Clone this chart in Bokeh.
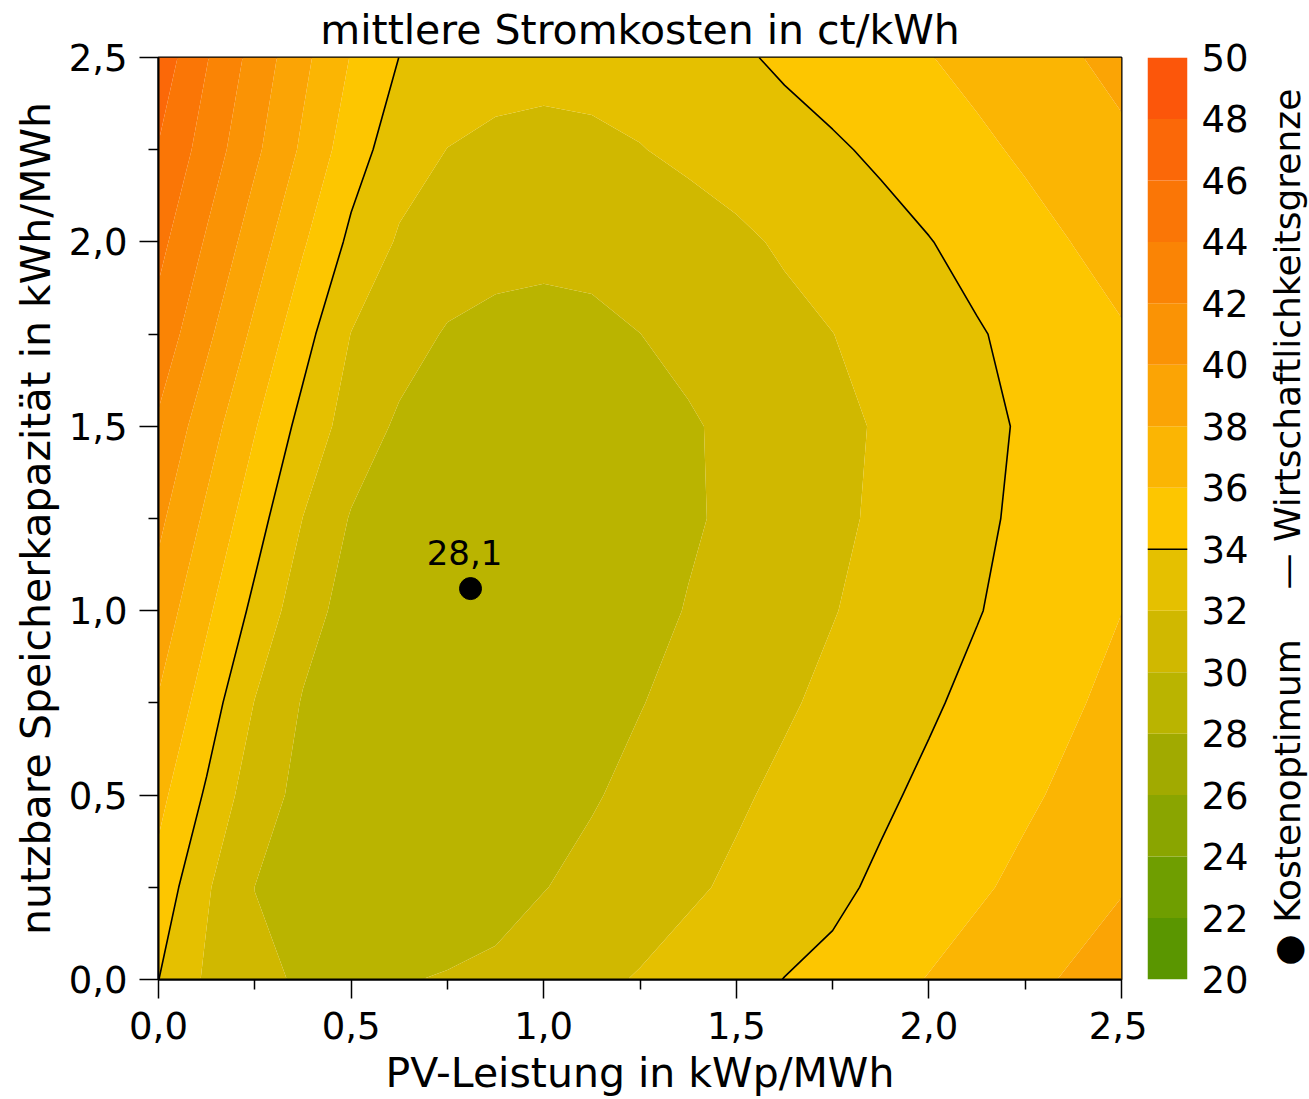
import math
import numpy as np
from bokeh.plotting import figure
from bokeh.models import Range1d, FixedTicker
from bokeh.layouts import row
from bokeh.core.properties import value
from bokeh.embed import file_html
from bokeh.resources import INLINE

FONT = "DejaVu Sans"

title_text = "mittlere Stromkosten in ct/kWh"
x_label = "PV-Leistung in kWp/MWh"
y_label = "nutzbare Speicherkapazität in kWh/MWh"

# grid of the cost field (PV power in kWp/MWh, storage in kWh/MWh)
pv_grid = [0.0, 0.125, 0.25, 0.375, 0.5, 0.625, 0.75, 0.875, 1.0, 1.125, 1.25,
           1.375, 1.5, 1.625, 1.75, 1.875, 2.0, 2.125, 2.25, 2.375, 2.5]
storage_grid = [0.0, 0.25, 0.5, 0.75, 1.0, 1.25, 1.5, 1.75, 2.0, 2.25, 2.5]

# mean electricity cost in ct/kWh, one row per storage value
cost_s000 = [34.02, 31.71, 30.20, 29.90, 29.96, 29.93, 30.08, 30.26, 31.00, 31.62, 32.13, 32.76, 33.39, 34.03, 34.43, 35.39, 36.08, 36.80, 37.52, 38.24, 38.96]
cost_s025 = [35.29, 32.22, 29.99, 29.54, 29.28, 29.21, 29.31, 29.55, 29.94, 30.52, 31.11, 31.70, 32.32, 32.97, 33.62, 34.30, 35.01, 35.73, 36.45, 37.16, 37.88]
cost_s050 = [36.57, 33.73, 30.80, 29.52, 28.94, 28.66, 28.66, 28.86, 29.26, 29.84, 30.49, 31.11, 31.74, 32.38, 33.04, 33.70, 34.36, 35.04, 35.71, 36.41, 37.15]
cost_s075 = [37.86, 35.06, 31.93, 29.86, 28.96, 28.43, 28.26, 28.37, 28.69, 29.21, 29.93, 30.56, 31.17, 31.77, 32.42, 33.10, 33.77, 34.45, 35.13, 35.81, 36.52]
cost_s100 = [39.14, 36.35, 33.51, 30.77, 29.28, 28.53, 28.15, 28.14, 28.34, 28.74, 29.34, 30.10, 30.70, 31.31, 31.92, 32.58, 33.24, 33.91, 34.61, 35.30, 35.98]
cost_s125 = [40.43, 37.63, 34.84, 31.97, 29.86, 28.92, 28.37, 28.21, 28.32, 28.61, 29.09, 29.74, 30.41, 31.02, 31.63, 32.28, 32.97, 33.66, 34.35, 35.05, 35.75]
cost_s150 = [41.71, 38.92, 36.13, 33.35, 31.12, 29.70, 29.04, 28.71, 28.69, 28.87, 29.24, 29.80, 30.41, 30.99, 31.57, 32.17, 32.85, 33.53, 34.21, 34.91, 35.60]
cost_s175 = [43.26, 40.42, 37.58, 34.74, 31.96, 30.80, 29.84, 29.49, 29.40, 29.57, 29.99, 30.49, 30.98, 31.48, 31.98, 32.60, 33.23, 33.85, 34.51, 35.18, 35.85]
cost_s200 = [44.57, 41.79, 39.01, 36.22, 33.57, 31.77, 31.09, 30.67, 30.50, 30.56, 30.76, 31.13, 31.64, 32.24, 32.80, 33.36, 33.93, 34.62, 35.33, 36.04, 36.70]
cost_s225 = [45.89, 43.14, 40.40, 37.66, 34.92, 32.90, 31.97, 31.61, 31.50, 31.62, 31.93, 32.39, 32.84, 33.30, 33.76, 34.31, 34.96, 35.62, 36.29, 36.97, 37.65]
cost_s250 = [47.23, 44.12, 41.28, 38.49, 35.90, 33.98, 33.17, 32.70, 32.55, 32.63, 32.86, 33.22, 33.73, 34.30, 34.84, 35.38, 35.93, 36.56, 37.21, 37.86, 38.51]

levels = [20, 22, 24, 26, 28, 30, 32, 34, 36, 38, 40, 42, 44, 46, 48, 50]
level_labels = ["20", "22", "24", "26", "28", "30", "32", "34", "36", "38", "40", "42", "44", "46", "48", "50"]
band_colors = ["#5a9600", "#6f9e00", "#8aa500", "#a1aa00", "#bab400", "#d0b800", "#e5c000",
               "#fdc600", "#fbb503", "#fba405", "#fa9305", "#fa8405", "#fa7606", "#fb6808", "#fc560a"]
econ_limit = 34  # Wirtschaftlichkeitsgrenze

opt_pv = [0.81]
opt_storage = [1.06]
opt_label = ["28,1"]

x_ticks = [0.0, 0.5, 1.0, 1.5, 2.0, 2.5]
x_tick_labels = ["0,0", "0,5", "1,0", "1,5", "2,0", "2,5"]
y_ticks = [0.0, 0.5, 1.0, 1.5, 2.0, 2.5]
y_tick_labels = ["0,0", "0,5", "1,0", "1,5", "2,0", "2,5"]
minor_ticks = [0.25, 0.75, 1.25, 1.75, 2.25]

legend_labels = ["\u25cf Kostenoptimum", "\u2014 Wirtschaftlichkeitsgrenze"]
legend_start = [20.45, 32.69]  # where each legend entry starts along the colour scale

Z = np.array([cost_s000, cost_s025, cost_s050, cost_s075, cost_s100, cost_s125,
              cost_s150, cost_s175, cost_s200, cost_s225, cost_s250])
X = np.array(pv_grid)
Y = np.array(storage_grid)

TOP, BOTTOM, H = 57, 120, 1099

# ---------------- main figure ----------------
p = figure(width=1147, height=H, x_range=Range1d(0, 2.5), y_range=Range1d(0, 2.5),
           output_backend="svg", toolbar_location=None,
           min_border_left=158, min_border_right=26, min_border_top=TOP, min_border_bottom=BOTTOM,
           title=title_text)
p.title.text_font = FONT
p.title.text_font_size = "41px"
p.title.text_font_style = "normal"
p.title.align = "center"
p.title.standoff = 7
p.title.text_color = "black"

p.contour(x=X, y=Y, z=Z, levels=levels, fill_color=band_colors, line_color=None)
p.contour(x=X, y=Y, z=Z, levels=[econ_limit], line_color="black", line_width=1.6)

p.scatter(x=opt_pv, y=opt_storage, size=22, fill_color="black", line_color="black")
p.text(x=opt_pv, y=opt_storage, text=opt_label, text_font=value(FONT), text_font_size="34px",
       text_align="center", text_baseline="alphabetic", x_offset=-6, y_offset=-36, text_color="black")

p.xaxis.ticker = FixedTicker(ticks=x_ticks, minor_ticks=minor_ticks)
p.yaxis.ticker = FixedTicker(ticks=y_ticks, minor_ticks=minor_ticks)
p.xaxis.major_label_overrides = dict(zip(x_ticks, x_tick_labels))
p.yaxis.major_label_overrides = dict(zip(y_ticks, y_tick_labels))
p.xaxis.axis_label = x_label
p.yaxis.axis_label = y_label

for ax in (p.xaxis[0], p.yaxis[0]):
    ax.major_tick_out = 19
    ax.major_tick_in = 0
    ax.minor_tick_out = 10
    ax.minor_tick_in = 0
    ax.major_tick_line_color = "black"
    ax.minor_tick_line_color = "black"
    ax.major_tick_line_width = 1.5
    ax.minor_tick_line_width = 1.5
    ax.axis_line_color = "black"
    ax.axis_line_width = 2
    ax.major_label_text_font = FONT
    ax.major_label_text_font_size = "37px"
    ax.major_label_text_color = "black"
    ax.axis_label_text_font = FONT
    ax.axis_label_text_font_size = "41px"
    ax.axis_label_text_font_style = "normal"
    ax.axis_label_text_color = "black"
p.xaxis.major_label_standoff = 13
p.yaxis.major_label_standoff = 12
p.xaxis.axis_label_standoff = 7
p.yaxis.axis_label_standoff = 6
p.grid.visible = False
p.outline_line_color = "black"
p.outline_line_width = 2

# ---------------- colour bar ----------------
cb = figure(width=113, height=H, x_range=Range1d(0, 1), y_range=Range1d(20, 50),
            output_backend="svg", toolbar_location=None,
            min_border_left=0, min_border_right=73, min_border_top=TOP, min_border_bottom=BOTTOM,
            x_axis_type=None, y_axis_location="right")
cb.grid.visible = False
cb.outline_line_color = None
cb.quad(left=0, right=1, bottom=levels[:-1], top=levels[1:], fill_color=band_colors, line_color=None)
cb.segment(x0=[0], y0=[econ_limit], x1=[1], y1=[econ_limit], line_color="black", line_width=1.6)
ya = cb.yaxis[0]
ya.ticker = FixedTicker(ticks=levels)
ya.major_label_overrides = dict(zip(levels, level_labels))
ya.major_tick_line_color = None
ya.minor_tick_line_color = None
ya.axis_line_color = None
ya.major_label_standoff = 8
ya.major_label_text_font = FONT
ya.major_label_text_font_size = "37px"
ya.major_label_text_color = "black"

# ---------------- legend (rotated) ----------------
lg = figure(width=49, height=H, x_range=Range1d(0, 49), y_range=Range1d(20, 50),
            output_backend="svg", toolbar_location=None,
            min_border_left=0, min_border_right=0, min_border_top=TOP, min_border_bottom=BOTTOM,
            x_axis_type=None, y_axis_type=None)
lg.grid.visible = False
lg.outline_line_color = None
lg.text(x=[27, 27], y=legend_start, text=legend_labels, angle=math.pi / 2,
        text_font=value(FONT), text_font_size="36px",
        text_align="left", text_baseline="alphabetic", text_color="black")

layout = row(p, cb, lg)
open("out.html", "w").write(file_html(layout, INLINE))
